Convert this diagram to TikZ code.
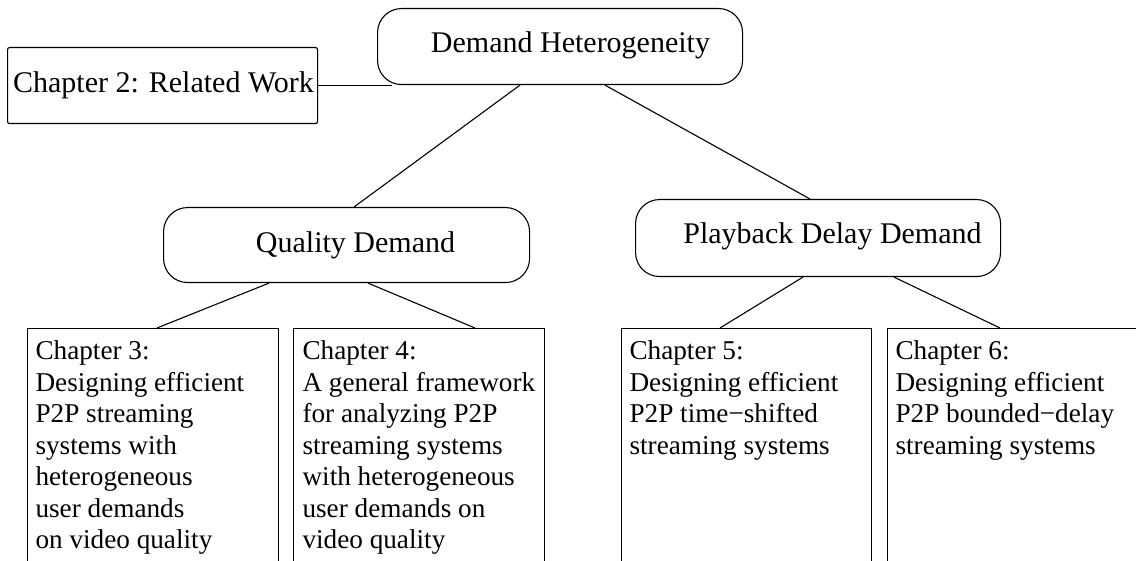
\documentclass[tikz,border=0pt]{standalone}
\usepackage{fontspec}
\setmainfont{Liberation Serif}
\usetikzlibrary{calc}

\begin{document}
\begin{tikzpicture}[x=0.5pt,y=-0.5pt, line width=0.55pt,
  txt/.style={font=\fontsize{15}{15.5}\selectfont, inner sep=0pt, align=left},
  chaptxt/.style={font=\fontsize{13.6}{15.75}\selectfont, inner sep=0pt, align=left, anchor=north west},
  topic/.style={draw, rectangle, rounded corners=12pt, inner sep=0pt, anchor=north west},
  plainbox/.style={draw, rectangle, rounded corners=1pt, inner sep=0pt, anchor=north west},
  chapbox/.style={draw, rectangle, inner sep=0pt, anchor=north west, minimum height=150pt},
  link/.style={draw}]

  \useasboundingbox (0,0) rectangle (1136,561);
  \clip (0,0) rectangle (1136,561);

  % topic boxes
  \node[plainbox, minimum width=155pt, minimum height=38pt] (ch2) at (7,47) {};
  \node[topic, minimum width=182.5pt, minimum height=38pt] (dh) at (377,8) {};
  \node[topic, minimum width=183pt, minimum height=37.5pt] (qd) at (163,207) {};
  \node[topic, minimum width=182.5pt, minimum height=38.5pt] (pdd) at (635,199) {};

  % chapter boxes, open towards the bottom edge
  \node[chapbox, minimum width=125.5pt] (c3) at (27,328) {};
  \node[chapbox, minimum width=125.5pt] (c4) at (293,328) {};
  \node[chapbox, minimum width=125pt] (c5) at (621,328) {};
  \node[chapbox, minimum width=150pt] (c6) at (887,328) {};

  % labels
  \node[txt, anchor=base] (t2) at (163.5,93) {Chapter 2: Related Work};
  \node[txt, anchor=base] (tdh) at (570.5,53) {Demand Heterogeneity};
  \node[txt, anchor=base] (tqd) at (355.5,253) {Quality Demand};
  \node[txt, anchor=base] (tpdd) at (832.5,244) {Playback Delay Demand};

  \node[chaptxt] (t3) at (35,340.5) {Chapter 3:\\Designing efficient\\P2P streaming\\systems with\\heterogeneous\\user demands\\on video quality};
  \node[chaptxt] (t4) at (302,340.5) {Chapter 4:\\A general framework\\for analyzing P2P\\streaming systems\\with heterogeneous\\user demands on\\video quality};
  \node[chaptxt] (t5) at (629,340.5) {Chapter 5:\\Designing efficient\\P2P time−shifted\\streaming systems};
  \node[chaptxt] (t6) at (895,340.5) {Chapter 6:\\Designing efficient\\P2P bounded−delay\\streaming systems};

  % connectors
  \coordinate (dhfoot) at ($(dh.south west)+(15,0)$);
  \draw[link] (ch2.east) -- (ch2.east -| dhfoot);
  \draw[link] ($(dh.south west)+(143,0)$) -- ($(qd.north west)+(191,0)$);
  \draw[link] ($(dh.south west)+(228,0)$) -- ($(pdd.north west)+(175,0)$);
  \draw[link] ($(qd.south west)+(106,0)$) -- ($(c3.north west)+(130,0)$);
  \draw[link] ($(qd.south west)+(205,0)$) -- ($(c4.north west)+(182,0)$);
  \draw[link] ($(pdd.south west)+(168,0)$) -- ($(c5.north west)+(99,0)$);
  \draw[link] ($(pdd.south west)+(259,0)$) -- ($(c6.north west)+(113,0)$);
\end{tikzpicture}
\end{document}
